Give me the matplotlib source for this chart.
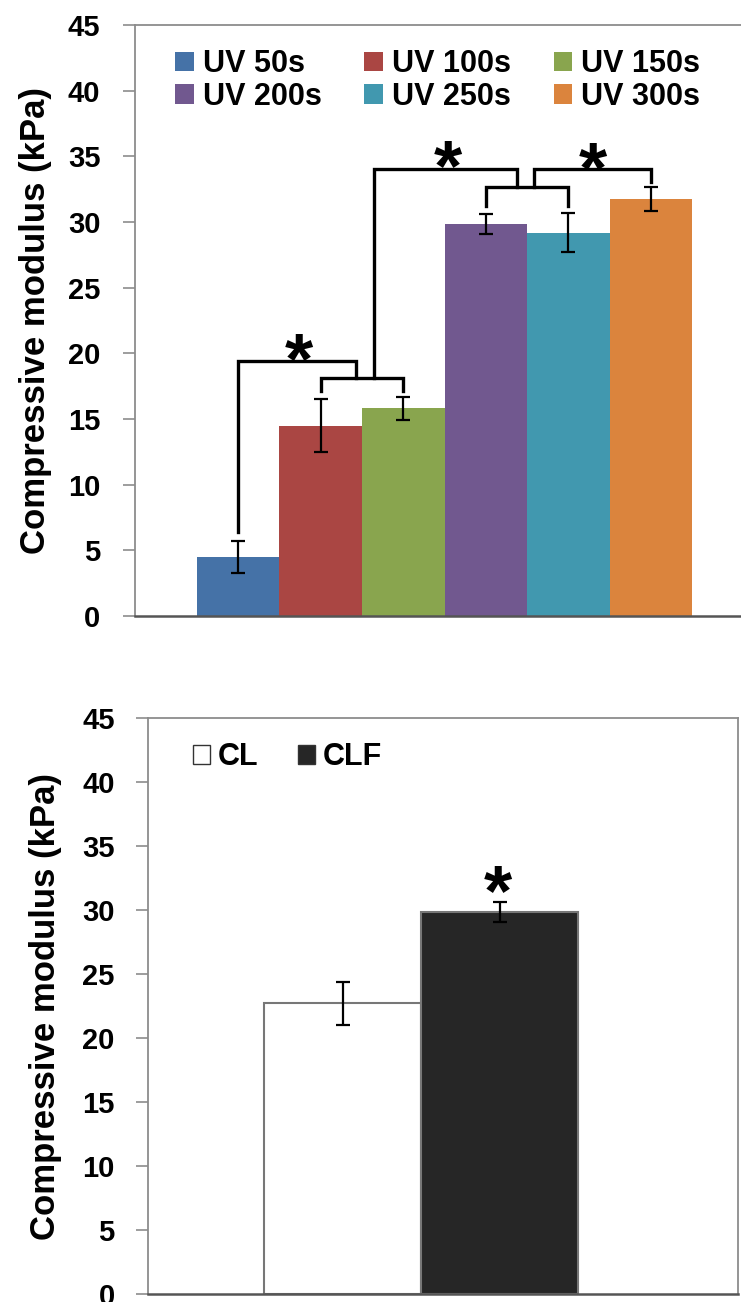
import matplotlib
matplotlib.use('Agg')
import matplotlib.pyplot as plt
from matplotlib.patches import Patch

plt.rcParams['font.family'] = ['Liberation Sans', 'DejaVu Sans']
plt.rcParams['font.weight'] = 'bold'

# top chart: UV exposure time
uv_labels = ['UV 50s', 'UV 100s', 'UV 150s', 'UV 200s', 'UV 250s', 'UV 300s']
uv_mean = [4.5, 14.5, 15.8, 29.85, 29.2, 31.75]
uv_err = [1.2, 2.0, 0.9, 0.75, 1.5, 0.9]
uv_colors = ['#4572A7', '#AA4643', '#89A54E', '#71588F', '#4198AF', '#DB843D']

# significance brackets (x in bar units, y in kPa)
brackets = [
    ([0, 0, 1.43, 1.43], [6.4, 19.4, 19.4, 18.1]),
    ([1, 1, 2, 2], [17.1, 18.1, 18.1, 17.1]),
    ([1.65, 1.65, 3.38, 3.38], [18.1, 34.0, 34.0, 32.7]),
    ([3, 3, 4, 4], [31.2, 32.7, 32.7, 31.2]),
    ([3.59, 3.59, 5, 5], [32.7, 34.0, 34.0, 33.05]),
]
stars_top = [(0.73, 20.9), (2.54, 35.6), (4.30, 35.4)]

# bottom chart: CL vs CLF
grp_labels = ['CL', 'CLF']
grp_mean = [22.7, 29.85]
grp_err = [1.7, 0.75]
grp_colors = ['white', '#262626']
star_bottom = (0.99, 32.8)

W, H = 741, 1302
fig = plt.figure(figsize=(W / 100, H / 100), dpi=100)

ax1 = fig.add_axes([135 / W, 1 - 616 / H, 619 / W, (616 - 25) / H])
ax2 = fig.add_axes([148 / W, 1 - 1294 / H, 590 / W, (1294 - 718) / H])

spine_col = '#8c8c8c'
tick_fs = 21
ylab_fs = 25
star_fs = 52
leg_fs = 22


def star(ax, x, y):
    ax.annotate('*', (x, y), xytext=(0, -0.57 * star_fs), textcoords='offset points',
                ha='center', va='baseline', fontsize=star_fs, fontweight='bold')


# ---- top
xs = list(range(len(uv_mean)))
ax1.bar(xs, uv_mean, width=1.0, color=uv_colors, edgecolor='none', zorder=2)
ax1.errorbar(xs, uv_mean, yerr=uv_err, fmt='none', ecolor='black', elinewidth=1.6,
             capsize=5, capthick=1.6, zorder=3)
for bx, by in brackets:
    ax1.plot(bx, by, color='black', lw=2.4, solid_joinstyle='miter', zorder=4)
for sx, sy in stars_top:
    star(ax1, sx, sy)

ax1.set_xlim(-1.25, 6.25)
ax1.set_ylim(0, 45)
ax1.set_yticks(range(0, 46, 5))
ax1.set_xticks([])
ax1.spines['right'].set_visible(False)
for s in ['left', 'top']:
    ax1.spines[s].set_color(spine_col)
    ax1.spines[s].set_linewidth(1.3)
ax1.spines['bottom'].set_color('#555555')
ax1.spines['bottom'].set_linewidth(1.8)
ax1.tick_params(axis='y', length=9, width=1.2, color=spine_col, pad=16, labelsize=tick_fs)
ax1.set_ylabel('Compressive modulus (kPa)', fontsize=ylab_fs, fontweight='bold')
ax1.yaxis.set_label_coords(-83 / 619, 0.5)

handles = [Patch(facecolor=c, edgecolor='none') for c in uv_colors]
order = [0, 3, 1, 4, 2, 5]
ax1.legend([handles[i] for i in order], [uv_labels[i] for i in order], ncol=3,
           loc='upper left', bbox_to_anchor=(28 / 619, 1 - 12 / 591), frameon=False,
           fontsize=leg_fs, handlelength=0.6, handleheight=0.6, handletextpad=0.3,
           columnspacing=1.4, labelspacing=0.08, borderaxespad=0)

# ---- bottom
xs2 = list(range(len(grp_mean)))
ax2.bar(xs2, grp_mean, width=1.0, color=grp_colors, edgecolor='#777777', linewidth=1.5, zorder=2)
ax2.errorbar(xs2, grp_mean, yerr=grp_err, fmt='none', ecolor='black', elinewidth=1.6,
             capsize=5, capthick=1.6, zorder=3)
star(ax2, *star_bottom)

ax2.set_xlim(-1.239, 2.519)
ax2.set_ylim(0, 45)
ax2.set_yticks(range(0, 46, 5))
ax2.set_xticks([])
for s in ['left', 'top', 'right']:
    ax2.spines[s].set_color(spine_col)
    ax2.spines[s].set_linewidth(1.3)
ax2.spines['bottom'].set_color('#555555')
ax2.spines['bottom'].set_linewidth(1.8)
ax2.tick_params(axis='y', length=9, width=1.2, color=spine_col, pad=15, labelsize=tick_fs)
ax2.set_ylabel('Compressive modulus (kPa)', fontsize=ylab_fs, fontweight='bold')
ax2.yaxis.set_label_coords(-86 / 590, 0.5)

h2 = [Patch(facecolor=c, edgecolor='#333333', linewidth=1.0) for c in grp_colors]
ax2.legend(h2, grp_labels, ncol=2, loc='upper left', bbox_to_anchor=(33 / 590, 1 - 12 / 576),
           frameon=False, fontsize=leg_fs, handlelength=0.55, handleheight=0.55,
           handletextpad=0.25, columnspacing=1.3, borderaxespad=0)

fig.savefig('out.png', dpi=100)
